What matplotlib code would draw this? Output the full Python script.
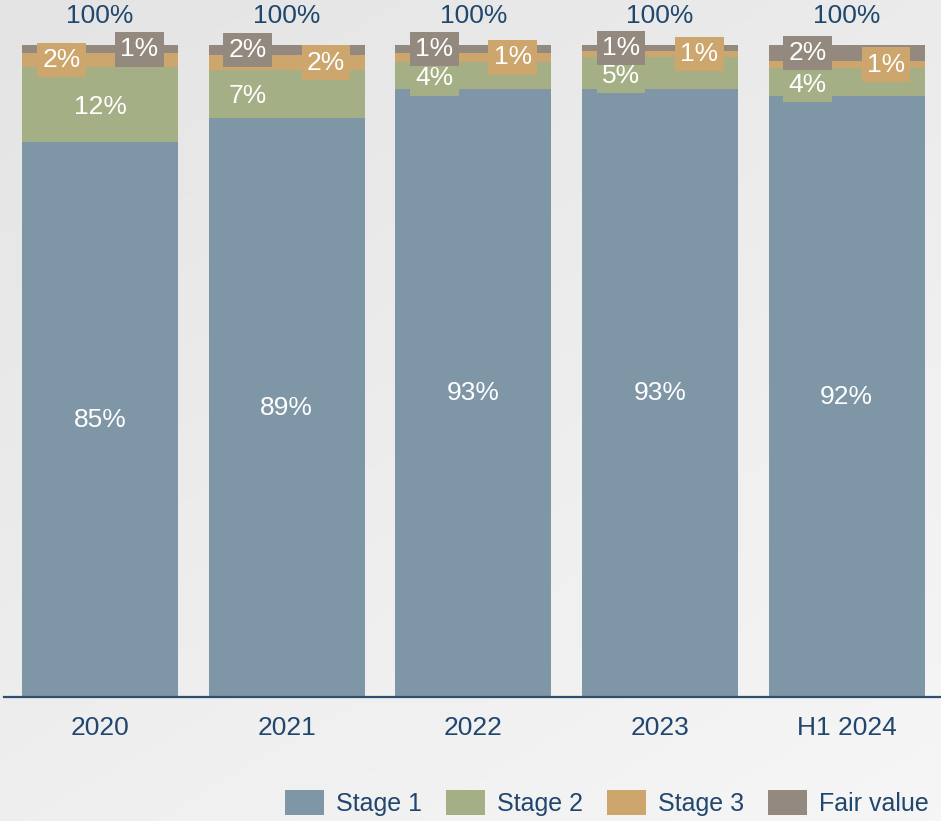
import matplotlib
matplotlib.use("Agg")
import matplotlib.pyplot as plt
import numpy as np
from matplotlib.patches import Patch

plt.rcParams['font.family'] = ['Liberation Sans', 'DejaVu Sans']

# Portfolio split by stage (% of gross loans)
categories = ["2020", "2021", "2022", "2023", "H1 2024"]
stage1 = [85.1, 88.8, 93.2, 93.2, 92.1]
stage2 = [11.6, 7.4, 4.2, 4.9, 4.3]
stage3 = [2.0, 2.2, 1.4, 1.0, 1.2]
fair_value = [1.3, 1.6, 1.2, 0.9, 2.4]
series_names = ["Stage 1", "Stage 2", "Stage 3", "Fair value"]

colors = ["#7F96A7", "#A5AF85", "#CCA66C", "#94897E"]
text_blue = "#21476E"

# horizontal offset of each series' label within its bar (data units)
label_shift = {
    "Stage 1": [0, 0, 0, 0, 0],
    "Stage 2": [0, -0.21, -0.21, -0.21, -0.21],
    "Stage 3": [-0.205, 0.21, 0.21, 0.21, 0.21],
    "Fair value": [0.21, -0.21, -0.21, -0.21, -0.21],
}
# small vertical nudge of each series' label (data units)
label_drop = {"Stage 1": 0.0, "Stage 2": -0.4, "Stage 3": 0.0, "Fair value": 0.0}

W, H = 941, 821
fig = plt.figure(figsize=(W / 100, H / 100), dpi=100)

# soft grey gradient backdrop
bg = fig.add_axes([0, 0, 1, 1], zorder=-10)
yy, xx = np.mgrid[0:1:200j, 0:1:200j]
grad = 0.6 * yy + 0.4 * xx
bg.imshow(grad, cmap=matplotlib.colors.LinearSegmentedColormap.from_list(
    "bgc", ["#E4E4E4", "#F6F6F6"]), extent=[0, 1, 0, 1], aspect="auto",
    origin="upper", vmin=0, vmax=1)
bg.axis("off")

ax = fig.add_axes([4 / W, 124 / H, 936 / W, 697 / H])
ax.patch.set_alpha(0)

x = np.arange(len(categories))
width = 0.836
series = [stage1, stage2, stage3, fair_value]
bottom = np.zeros(len(categories))
for name, vals, col in zip(series_names, series, colors):
    vals = np.array(vals)
    ax.bar(x, vals, width, bottom=bottom, color=col, label=name, zorder=2)
    for i, v in enumerate(vals):
        ax.text(x[i] + label_shift[name][i],
                bottom[i] + v / 2 + label_drop[name], f"{v:.0f}%",
                ha="center", va="center", color="white", fontsize=19, zorder=5,
                bbox=dict(boxstyle="square,pad=0.2", fc=col, ec="none"))
    bottom += vals

for i, tot in enumerate(bottom):
    ax.text(x[i], tot + 3.3, f"{tot:.0f}%", ha="center", va="baseline",
            color=text_blue, fontsize=19)

ax.set_xlim(-0.515, 4.5)
ax.set_ylim(0, 106.9)
ax.set_xticks(x)
ax.set_xticklabels(categories, fontsize=19, color=text_blue)
ax.tick_params(axis="x", length=0, pad=14)
ax.set_yticks([])
for s in ["top", "right", "left"]:
    ax.spines[s].set_visible(False)
ax.spines["bottom"].set_color("#2E4F70")
ax.spines["bottom"].set_linewidth(1.6)

handles = [Patch(facecolor=c, edgecolor="none") for c in colors]
leg = fig.legend(handles, series_names, loc="center right",
                 bbox_to_anchor=(929 / W, 18 / H), ncol=4, frameon=False,
                 fontsize=18, handlelength=1.55, handleheight=1.15,
                 handletextpad=0.5, columnspacing=0.95, borderpad=0,
                 borderaxespad=0)
for t in leg.get_texts():
    t.set_color(text_blue)

fig.savefig("out.png", dpi=100)
